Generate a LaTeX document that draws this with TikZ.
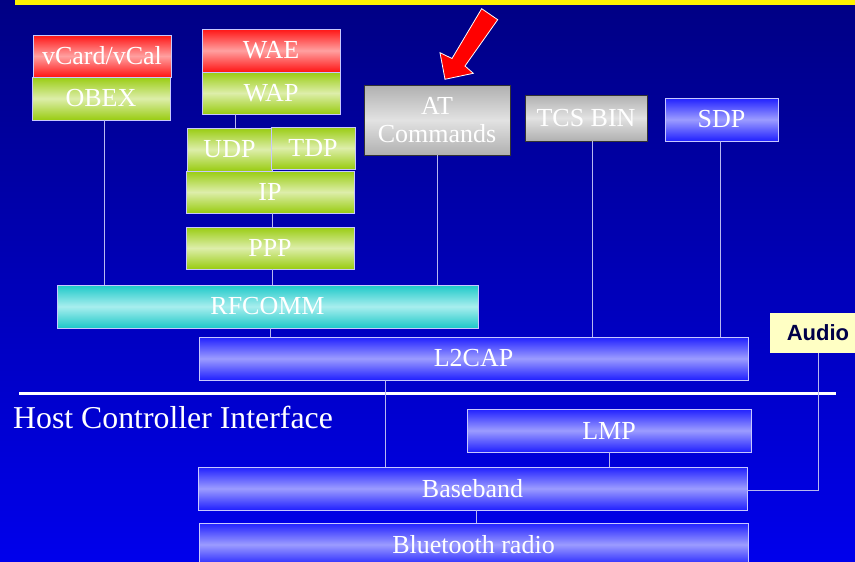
\documentclass[tikz,border=0pt]{standalone}
\usepackage{fontspec}
\setmainfont{Liberation Serif}
\newfontfamily\audiofont{Liberation Sans}
\usetikzlibrary{positioning,calc}
\definecolor{bgtop}{HTML}{000084}
\definecolor{bgbot}{HTML}{0000EC}
\definecolor{redtop}{HTML}{FF1414}
\definecolor{redmid}{HTML}{FFA0A0}
\definecolor{grntop}{HTML}{99CC11}
\definecolor{grnmid}{HTML}{DDEEAA}
\definecolor{graytop}{HTML}{B0B0B0}
\definecolor{graymid}{HTML}{E2E2E2}
\definecolor{blutop}{HTML}{2020FF}
\definecolor{blumid}{HTML}{9C9CFF}
\definecolor{cyntop}{HTML}{1CC8C8}
\definecolor{cynmid}{HTML}{A8EEEE}
\definecolor{edge}{HTML}{C8C8FF}
\definecolor{linkcol}{HTML}{B8B8F0}
\definecolor{audiofill}{HTML}{FFFFC4}
\definecolor{audiotext}{HTML}{000048}

\begin{document}
\begin{tikzpicture}[x=1pt,y=-1pt,
	layer/.style={draw=edge, line width=0.8pt, inner sep=0pt, text=white, font=\fontsize{26}{28}\selectfont},
	redbox/.style={layer, top color=redtop, bottom color=redtop, middle color=redmid},
	greenbox/.style={layer, top color=grntop, bottom color=grntop, middle color=grnmid},
	graybox/.style={layer, draw=black!80, top color=graytop, bottom color=graytop, middle color=graymid, align=center},
	bluebox/.style={layer, top color=blutop, bottom color=blutop, middle color=blumid},
	cyanbox/.style={layer, top color=cyntop, bottom color=cyntop, middle color=cynmid},
	link/.style={draw=linkcol, line width=0.8pt}]
			\useasboundingbox (0,0) rectangle (855,562);
			\clip (0,0) rectangle (855,562);
			\shade[top color=bgtop, bottom color=bgbot] (0,0) rectangle (855,562);
			\fill[yellow] (15,0) rectangle (855,5);

			% upper layers
			\node[redbox, minimum width=138, minimum height=42] (vcard) at (102,56) {vCard/vCal};
			\node[greenbox, minimum width=138, minimum height=43] (obex) at (101,98.5) {OBEX};
			\node[redbox, minimum width=138, minimum height=43] (wae) at (271,50.5) {WAE};
			\node[greenbox, minimum width=138, minimum height=42] (wap) at (271,93) {WAP};
			\node[greenbox, minimum width=85, minimum height=43] (udp) at (229.5,149.5) {UDP};
			\node[greenbox, minimum width=84, minimum height=42] (tdp) at (313,148) {TDP};
			\node[greenbox, minimum width=168, minimum height=42] (ip) at (270,192) {IP};
			\node[greenbox, minimum width=168, minimum height=42] (ppp) at (270,248) {PPP};
			\node[graybox, minimum width=146, minimum height=70] (at) at (437,120) {AT\\Commands};
			\node[graybox, minimum width=122, minimum height=46] (tcs) at (586,118) {TCS BIN};
			\node[bluebox, minimum width=113, minimum height=43] (sdp) at (721.5,119.5) {SDP};
			\node[cyanbox, minimum width=421, minimum height=43] (rfcomm) at (267.5,306.5) {RFCOMM};
			\node[bluebox, minimum width=549, minimum height=43] (l2cap) at (473.5,358.5) {L2CAP};
			\node[draw=none, fill=audiofill, inner sep=0pt, minimum width=96, minimum height=40, text=audiotext,
				font=\audiofont\bfseries\fontsize{22}{24}\selectfont] (audio) at (818,333) {Audio};

			% host controller interface
			\draw[white, line width=3] (19,393) -- (836,393);
			\node[anchor=base west, inner sep=0pt, text=white, font=\fontsize{31.8}{34}\selectfont] (hci) at (13,428) {Host Controller Interface};

			% lower layers
			\node[bluebox, minimum width=284, minimum height=43] (lmp) at (609,430.5) {LMP};
			\node[bluebox, minimum width=549, minimum height=43] (baseband) at (472.5,488.5) {Baseband};
			\node[bluebox, minimum width=549, minimum height=43] (radio) at (473.5,544.5) {Bluetooth radio};

			% links
			\draw[link] ([xshift=3.5]obex.south) -- ([xshift=3.5]obex.south |- rfcomm.north);
			\draw[link] ([xshift=6]udp.north) -- ([xshift=6]udp.north |- wap.south);
			\draw[link] ([xshift=2]ip.south) -- ([xshift=2]ip.south |- ppp.north);
			\draw[link] ([xshift=2]ppp.south) -- ([xshift=2]ppp.south |- rfcomm.north);
			\draw[link] (at.south) -- (at.south |- rfcomm.north);
			\draw[link] ([xshift=6]tcs.south) -- ([xshift=6]tcs.south |- l2cap.north);
			\draw[link] ([xshift=-1.5]sdp.south) -- ([xshift=-1.5]sdp.south |- l2cap.north);
			\draw[link] ([xshift=2.5]rfcomm.south) -- ([xshift=2.5]rfcomm.south |- l2cap.north);
			\draw[link] ([xshift=-88.5]l2cap.south) -- ([xshift=-88.5]l2cap.south |- baseband.north);
			\draw[link] (lmp.south) -- (lmp.south |- baseband.north);
			\draw[link] ([xshift=3.5]baseband.south) -- ([xshift=3.5]baseband.south |- radio.north);
			\draw[link] (audio.south) |- ([yshift=-1.5]baseband.east);

			% pointer arrow
			\filldraw[fill=red, draw=white, line width=0.8] (481.7,8.7) -- (497.7,19.7) -- (465,66) -- (473.3,73.3)
				-- (445,79.3) -- (440,52.7) -- (452,58.5) -- cycle;
\end{tikzpicture}
\end{document}
